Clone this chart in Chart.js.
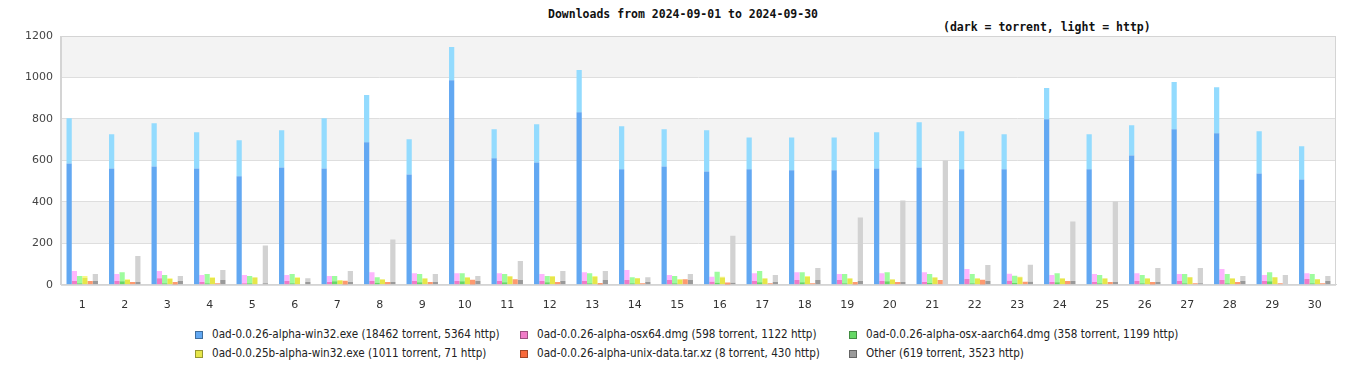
<!DOCTYPE html>
<html>
<head>
<meta charset="utf-8">
<script src="https://cdn.jsdelivr.net/npm/chart.js@4.4.0/dist/chart.umd.min.js"></script>
<style>
  body { margin: 0; background: #fff; width: 1366px; height: 380px; overflow: hidden; position: relative; }
  #title, #subtitle { position: absolute; font-family: "DejaVu Sans Mono", monospace; font-weight: bold; font-size: 11.5px; color: #111; white-space: nowrap; }
  #title { left: 0; width: 1366px; text-align: center; top: 7px; }
  #subtitle { left: 943px; top: 20px; }
  #wrap { position: absolute; left: 0; top: 0; width: 1366px; height: 324px; }
  #legend { position: absolute; left: 0; top: 0; font-family: "Liberation Sans Narrow", "DejaVu Sans Condensed", "Liberation Sans", sans-serif; font-size: 11.6px; color: #222; }
  .item { position: absolute; white-space: nowrap; line-height: 14px; }
  .sw { position: absolute; width: 6px; height: 6px; top: 4px; border: 1px solid rgba(0,0,0,0.35); }
  .tx { position: absolute; left: 17px; top: 0; }
</style>
</head>
<body>
<div id="title">Downloads from 2024-09-01 to 2024-09-30</div>
<div id="subtitle">(dark = torrent, light = http)</div>
<div id="wrap"><canvas id="myChart"></canvas></div>
<div id="legend"></div>
<script>
const days = ['1','2','3','4','5','6','7','8','9','10','11','12','13','14','15','16','17','18','19','20','21','22','23','24','25','26','27','28','29','30'];

const files = ['0ad-0.0.26-alpha-win32.exe', '0ad-0.0.26-alpha-osx64.dmg', '0ad-0.0.26-alpha-osx-aarch64.dmg',
               '0ad-0.0.25b-alpha-win32.exe', '0ad-0.0.26-alpha-unix-data.tar.xz', 'Other'];
const legendText = ['(18462 torrent, 5364 http)', '(598 torrent, 1122 http)', '(358 torrent, 1199 http)',
                    '(1011 torrent, 71 http)', '(8 torrent, 430 http)', '(619 torrent, 3523 http)'];

const win32Torrent = [585,561,571,561,523,566,561,687,532,987,610,590,832,557,571,547,557,552,552,561,566,557,557,799,557,624,750,731,537,508];
const win32Http    = [218,165,208,175,174,179,242,228,170,160,140,184,204,208,179,198,154,159,159,175,218,183,169,150,169,146,228,222,203,160];
const osxTorrent   = [18,18,32,13,8,18,13,18,18,18,18,18,18,23,23,15,18,23,23,18,13,28,20,13,13,18,18,23,18,28];
const osxHttp      = [48,34,34,34,39,29,29,43,38,38,38,34,43,48,24,24,38,38,29,38,48,48,33,34,39,38,34,53,29,28];
const armTorrent   = [7,17,7,7,7,7,17,10,12,17,12,12,7,7,7,10,12,12,7,17,9,7,9,12,7,7,7,7,17,7];
const armHttp      = [35,44,40,45,35,45,25,27,40,39,40,30,49,30,35,53,54,49,45,44,43,45,35,44,40,40,45,45,44,45];
const oldTorrent   = [34,23,28,33,35,33,21,25,30,35,40,40,38,32,25,35,30,38,30,25,35,30,37,30,30,30,37,30,37,27];
const oldHttp      = [8,4,4,4,2,4,2,2,2,2,2,2,4,0,2,4,2,4,2,2,2,2,2,2,2,2,0,2,0,0];
const dataTorrent  = [0,0,1,0,0,0,1,0,0,1,0,0,1,0,0,1,0,0,1,0,0,1,0,0,0,1,0,0,0,0];
const dataHttp     = [18,13,13,8,3,3,18,13,13,23,27,13,8,8,27,10,8,8,13,13,23,23,15,18,13,13,8,13,8,8];
const otherTorrent = [18,13,18,23,8,13,13,13,13,18,23,18,23,13,23,10,13,23,18,13,3,18,15,18,13,13,8,18,3,18];
const otherHttp    = [34,126,24,48,182,19,53,205,39,24,92,48,43,24,29,227,34,58,306,393,597,77,82,287,389,68,73,24,44,24];

const torrentSeries = [win32Torrent, osxTorrent, armTorrent, oldTorrent, dataTorrent, otherTorrent];
const httpSeries = [win32Http, osxHttp, armHttp, oldHttp, dataHttp, otherHttp];
const darkColors = ['#62a8f2', '#f07cc8', '#66d866', '#e6e64a', '#f86a3c', '#9a9a9a'];
const lightColors = ['#93dbfe', '#feb6fe', '#9efc9e', '#fafa80', '#fd9a70', '#d2d2d2'];

const datasets = [];
files.forEach((name, i) => {
    datasets.push({ label: name + ' torrent', data: torrentSeries[i], backgroundColor: darkColors[i], stack: 's' + i });
    datasets.push({ label: name + ' http', data: httpSeries[i], backgroundColor: lightColors[i], stack: 's' + i });
});

const bands = {
    id: 'bands',
    beforeDraw(chart) {
        const { ctx, chartArea: a, scales: { y } } = chart;
        ctx.save();
        ctx.fillStyle = '#f3f3f3';
        for (let v = 200; v < 1200; v += 400) {
            const top = y.getPixelForValue(v + 200), bot = y.getPixelForValue(v);
            ctx.fillRect(a.left, top, a.right - a.left, bot - top);
        }
        ctx.restore();
    },
    afterDraw(chart) {
        const { ctx, chartArea: a } = chart;
        ctx.save();
        ctx.strokeStyle = '#d4d4d4';
        ctx.lineWidth = 1;
        ctx.strokeRect(a.left + 0.5, a.top + 0.5, a.right - a.left - 1, a.bottom - a.top);
        ctx.restore();
    }
};

const ctx = document.getElementById('myChart').getContext('2d');
const myChart = new Chart(ctx, {
    type: 'bar',
    data: { labels: days, datasets: datasets },
    options: {
        responsive: true,
        maintainAspectRatio: false,
        animation: false,
        categoryPercentage: 0.74,
        barPercentage: 1.0,
        layout: { padding: { left: 17, right: 30, top: 36, bottom: 6 } },
        plugins: { legend: { display: false }, tooltip: { enabled: false } },
        scales: {
            x: {
                stacked: true,
                grid: { display: false },
                border: { color: '#d4d4d4' },
                ticks: { color: '#333', padding: 6, font: { family: 'DejaVu Sans', size: 11 } }
            },
            y: {
                stacked: true,
                min: 0,
                max: 1200,
                ticks: { stepSize: 200, color: '#444', padding: 8, font: { family: 'DejaVu Sans', size: 11 },
                         callback: v => String(v) },
                grid: { color: '#dedede', drawTicks: false },
                border: { color: '#d4d4d4' }
            }
        }
    },
    plugins: [bands]
});

// legend, three columns by two rows
const legend = document.getElementById('legend');
const colX = [195, 520, 849];
const rowY = [327, 346];
files.forEach((name, i) => {
    const el = document.createElement('div');
    el.className = 'item';
    el.style.left = colX[i % 3] + 'px';
    el.style.top = rowY[Math.floor(i / 3)] + 'px';
    el.innerHTML = '<span class="sw" style="background:' + darkColors[i] + '"></span><span class="tx">' + name + ' ' + legendText[i] + '</span>';
    legend.appendChild(el);
});
</script>
</body>
</html>
